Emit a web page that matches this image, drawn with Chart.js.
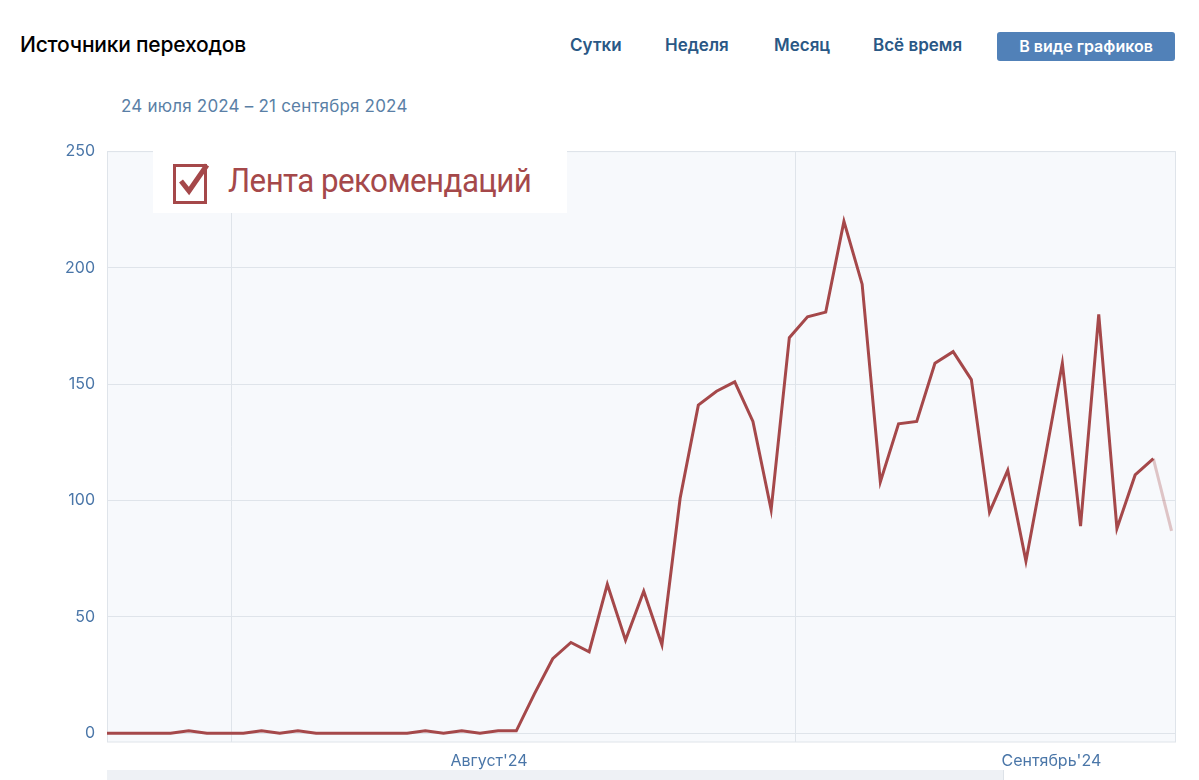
<!DOCTYPE html>
<html lang="ru">
<head>
<meta charset="utf-8">
<script src="https://cdn.jsdelivr.net/npm/chart.js@4"></script>
<style>
  html, body { margin: 0; padding: 0; background: #fff; width: 1199px; height: 780px; overflow: hidden; font-family: "Inter", "Roboto", sans-serif; }
  .title { position: absolute; left: 20px; top: 32px; font-size: 21px; font-weight: 500; color: #000; letter-spacing: -0.2px; }
  .tab { position: absolute; top: 35px; font-size: 17px; font-weight: 600; color: #2a5885; }
  .btn { position: absolute; left: 997px; top: 32px; width: 178px; height: 29px; background: #5181b8; color: #fff;
         border-radius: 3px; font-size: 16px; font-weight: 600; text-align: center; line-height: 29px; }
  .range { position: absolute; left: 121px; top: 96px; font-size: 17px; color: #5a7fa6; letter-spacing: 0.2px; }
  .nav { position: absolute; left: 107px; top: 770px; width: 1068px; height: 10px; background: #eef1f5; }
  .navbox { position: absolute; left: 1003px; top: 770px; width: 172px; height: 10px; background: #fff; border-left: 1px solid #dde2e8; }
  #wrap { position: absolute; left: 0; top: 130px; width: 1199px; height: 640px; }
  .legend { position: absolute; left: 153px; top: 150px; width: 414px; height: 63px; background: #fff; }
  .box { position: absolute; left: 20px; top: 14px; width: 34px; height: 40px; border: 3px solid #a5484a; box-sizing: border-box; }
  .legend span { position: absolute; left: 75px; top: 10px; font-family: "Roboto", sans-serif; font-size: 34px; color: #a5484a; letter-spacing: -0.6px; transform: scaleX(0.92); transform-origin: left; }
</style>
</head>
<body>
<div class="title">Источники переходов</div>
<div class="tab" style="left:570px">Сутки</div>
<div class="tab" style="left:665px">Неделя</div>
<div class="tab" style="left:774px">Месяц</div>
<div class="tab" style="left:873px">Всё время</div>
<div class="btn">В виде графиков</div>
<div class="range">24 июля 2024 – 21 сентября 2024</div>
<div id="wrap"><canvas id="c"></canvas></div>
<div class="legend">
  <div class="box"><svg width="40" height="36" style="position:absolute;left:-3px;top:-6px" viewBox="0 0 40 36">
    <path d="M8 20 L16 30 L34 4" fill="none" stroke="#a5484a" stroke-width="5" stroke-linejoin="miter"/></svg></div>
  <span>Лента рекомендаций</span>
</div>
<div class="nav"></div>
<div class="navbox"></div>
<script>
// first value is the day partly cut off at the left edge
const values = [0, 0, 0, 0, 0, 1, 0, 0, 0, 1, 0, 1, 0, 0, 0, 0, 0, 0, 1, 0, 1, 0, 1, 1,
  17, 32, 39, 35, 64, 40, 61, 38, 101, 141, 147, 151, 134, 96, 170, 179, 181, 220,
  193, 108, 133, 134, 159, 164, 152, 95, 113, 74, 116, 159, 89, 180, 88, 111, 118, 87];
const yTicks = [0, 50, 100, 150, 200, 250];
const monthGrid = [6.37, 37.36];
const monthLabelPos = [20.5, 51.4];
const monthLabels = ["Август'24", "Сентябрь'24"];

const LINE = '#a5484a';
const points = values.map((v, i) => ({ x: i - 1, y: v }));

const plotBg = {
  id: 'plotBg',
  beforeDraw(chart) {
    const { ctx, chartArea: a } = chart;
    ctx.save();
    ctx.fillStyle = '#f7f9fc';
    ctx.fillRect(a.left, a.top, a.right - a.left, a.bottom - a.top);
    ctx.strokeStyle = '#dfe4ea';
    ctx.lineWidth = 1;
    ctx.strokeRect(a.left + 0.5, a.top, a.right - a.left, a.bottom - a.top);
    ctx.restore();
  }
};

new Chart(document.getElementById('c'), {
  type: 'line',
  data: {
    datasets: [{
      data: points,
      borderColor: LINE,
      borderWidth: 3,
      pointRadius: 0,
      tension: 0,
      segment: {
        borderColor: s => s.p1DataIndex === values.length - 1 ? 'rgba(165,72,74,0.3)' : LINE
      }
    }]
  },
  options: {
    responsive: true,
    maintainAspectRatio: false,
    animation: false,
    layout: { padding: { top: 4, right: 24, bottom: 0, left: 0 } },
    plugins: { legend: { display: false }, tooltip: { enabled: false } },
    scales: {
      x: {
        type: 'linear', min: -0.49, max: 58.19,
        afterBuildTicks: s => { s.ticks = monthGrid.map(v => ({ value: v })); },
        afterFit: s => { s.height = 0; },
        ticks: { display: false },
        grid: { color: '#dfe4ea', drawTicks: false },
        border: { display: false }
      },
      xl: {
        type: 'linear', position: 'bottom', min: -0.49, max: 58.19,
        afterBuildTicks: s => { s.ticks = monthLabelPos.map(v => ({ value: v })); },
        afterFit: s => { s.height = 28; },
        ticks: {
          callback: (v, i) => monthLabels[i],
          color: '#4a76a8', font: { size: 16, family: 'Inter' }, maxRotation: 0, padding: 2
        },
        grid: { display: false },
        border: { display: false }
      },
      y: {
        min: -3.8, max: 250,
        afterBuildTicks: s => { s.ticks = yTicks.map(v => ({ value: v })); },
        afterFit: s => { s.width = 107; },
        ticks: { color: '#4a76a8', font: { size: 16, family: 'Inter' }, padding: 12 },
        grid: { color: '#dfe4ea', drawTicks: false },
        border: { display: false }
      }
    }
  },
  plugins: [plotBg]
});
</script>
</body>
</html>
